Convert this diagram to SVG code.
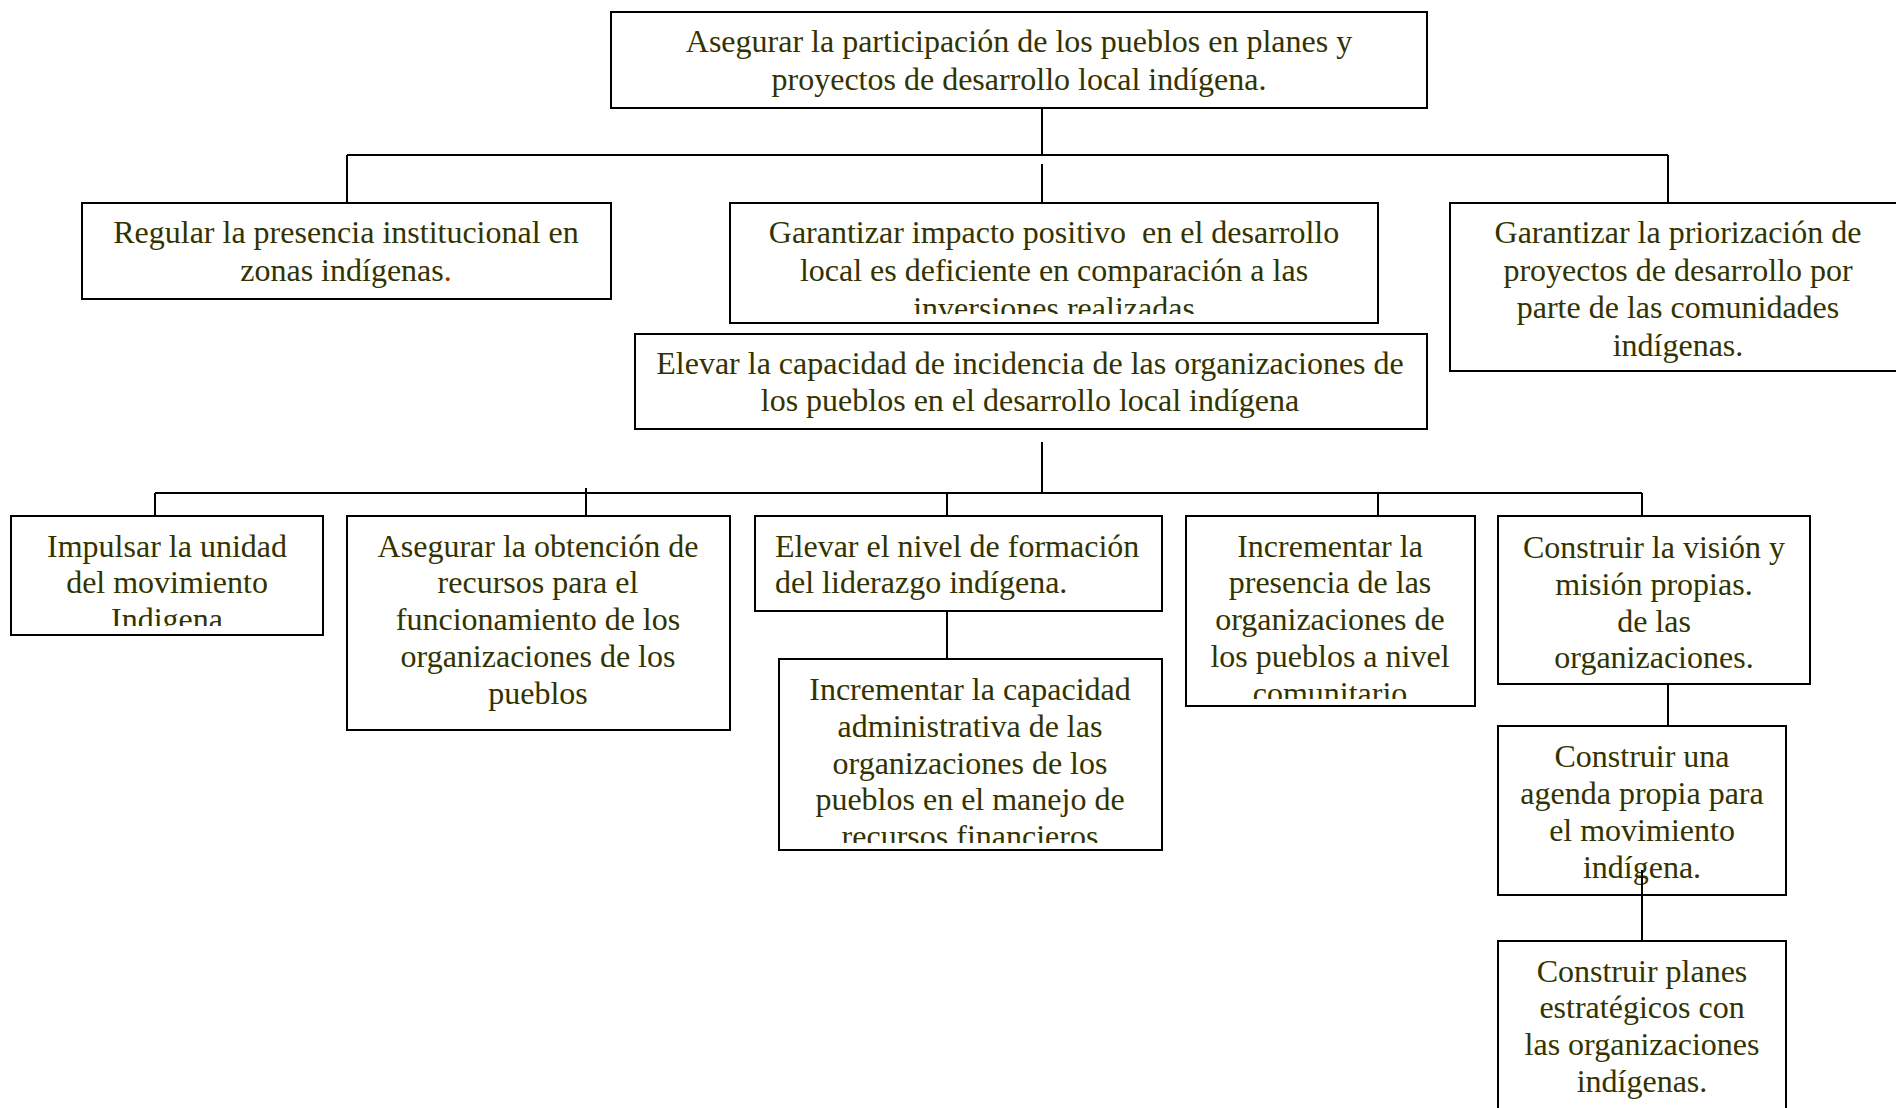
<svg xmlns="http://www.w3.org/2000/svg" width="1896" height="1108" viewBox="0 0 1896 1108">
<style>
.box{fill:#fff;stroke:#000;stroke-width:2}
.t{font-family:"Liberation Serif","Times New Roman",serif;font-size:32px;fill:#333300;text-anchor:middle}
.l{text-anchor:start}
.c{stroke:#000;stroke-width:2;fill:none}
</style>
<defs>
<clipPath id="cpImpacto"><rect x="730" y="203" width="648" height="111"/></clipPath>
<clipPath id="cpImpulsar"><rect x="11" y="516" width="312" height="110"/></clipPath>
<clipPath id="cpPresencia"><rect x="1186" y="516" width="289" height="183"/></clipPath>
<clipPath id="cpCapacidad"><rect x="779" y="659" width="383" height="184"/></clipPath>
</defs>
<rect width="1896" height="1108" fill="#fff"/>
<g id="connectors">
<path class="c" d="M1042 108V155M347 155H1668M347 155V203M1668 155V203M1042 164V213"/>
<path class="c" d="M1042 442V493M155 493H1642M155 493V516M586 488V516M947 493V516M1378 493V516M1642 493V516"/>
<path class="c" d="M947 611V659M1668 684V726M1642 870V941"/>
</g>
<g id="n-top">
<rect class="box" x="611" y="12" width="816" height="96"/>
<text class="t" x="1019" y="52">Asegurar la participación de los pueblos en planes y</text>
<text class="t" x="1019" y="90">proyectos de desarrollo local indígena.</text>
</g>
<g id="n-regular">
<rect class="box" x="82" y="203" width="529" height="96"/>
<text class="t" x="346" y="243">Regular la presencia institucional en</text>
<text class="t" x="346" y="281">zonas indígenas<tspan fill="#993300">.</tspan></text>
</g>
<g id="n-impacto">
<rect class="box" x="730" y="203" width="648" height="120"/>
<g clip-path="url(#cpImpacto)">
<text class="t" x="1054" y="243" xml:space="preserve">Garantizar impacto positivo  en el desarrollo</text>
<text class="t" x="1054" y="281">local es deficiente en comparación a las</text>
<text class="t" x="1054" y="319">inversiones realizadas</text>
</g>
</g>
<g id="n-priorizacion">
<rect class="box" x="1450" y="203" width="460" height="168"/>
<text class="t" x="1678" y="243">Garantizar la priorización de</text>
<text class="t" x="1678" y="281">proyectos de desarrollo por</text>
<text class="t" x="1678" y="318">parte de las comunidades</text>
<text class="t" x="1678" y="356">indígenas.</text>
</g>
<g id="n-elevar-capacidad">
<rect class="box" x="635" y="334" width="792" height="95"/>
<text class="t" x="1030" y="374">Elevar la capacidad de incidencia de las organizaciones de</text>
<text class="t" x="1030" y="411">los pueblos en el desarrollo local indígena</text>
</g>
<g id="n-impulsar">
<rect class="box" x="11" y="516" width="312" height="119"/>
<g clip-path="url(#cpImpulsar)">
<text class="t" x="167" y="557">Impulsar la unidad</text>
<text class="t" x="167" y="593">del movimiento</text>
<text class="t" x="167" y="630" fill="#000">Indigena</text>
</g>
</g>
<g id="n-recursos">
<rect class="box" x="347" y="516" width="383" height="214"/>
<text class="t" x="538" y="557">Asegurar la obtención de</text>
<text class="t" x="538" y="593">recursos para el</text>
<text class="t" x="538" y="630">funcionamiento de los</text>
<text class="t" x="538" y="667">organizaciones de los</text>
<text class="t" x="538" y="704">pueblos</text>
</g>
<g id="n-liderazgo">
<rect class="box" x="755" y="516" width="407" height="95"/>
<text class="t l" x="775" y="557">Elevar el nivel de formación</text>
<text class="t l" x="775" y="593">del liderazgo indígena.</text>
</g>
<g id="n-presencia">
<rect class="box" x="1186" y="516" width="289" height="190"/>
<g clip-path="url(#cpPresencia)">
<text class="t" x="1330" y="557">Incrementar la</text>
<text class="t" x="1330" y="593">presencia de las</text>
<text class="t" x="1330" y="630">organizaciones de</text>
<text class="t" x="1330" y="667">los pueblos a nivel</text>
<text class="t" x="1330" y="704">comunitario</text>
</g>
</g>
<g id="n-vision">
<rect class="box" x="1498" y="516" width="312" height="168"/>
<text class="t" x="1654" y="558">Construir la visión y</text>
<text class="t" x="1654" y="595">misión propias.</text>
<text class="t" x="1654" y="632">de las</text>
<text class="t" x="1654" y="668">organizaciones.</text>
</g>
<g id="n-capacidad-admin">
<rect class="box" x="779" y="659" width="383" height="191"/>
<g clip-path="url(#cpCapacidad)">
<text class="t" x="970" y="700">Incrementar la capacidad</text>
<text class="t" x="970" y="737">administrativa de las</text>
<text class="t" x="970" y="774">organizaciones de los</text>
<text class="t" x="970" y="810">pueblos en el manejo de</text>
<text class="t" x="970" y="847">recursos financieros</text>
</g>
</g>
<g id="n-agenda">
<rect class="box" x="1498" y="726" width="288" height="169"/>
<text class="t" x="1642" y="767">Construir una</text>
<text class="t" x="1642" y="804">agenda propia para</text>
<text class="t" x="1642" y="841">el movimiento</text>
<text class="t" x="1642" y="878">indígena.</text>
</g>
<g id="n-planes">
<rect class="box" x="1498" y="941" width="288" height="180"/>
<text class="t" x="1642" y="982">Construir planes</text>
<text class="t" x="1642" y="1018">estratégicos con</text>
<text class="t" x="1642" y="1055">las organizaciones</text>
<text class="t" x="1642" y="1092">indígenas.</text>
</g>
<path class="c" d="M1642 870V895"/>
</svg>
